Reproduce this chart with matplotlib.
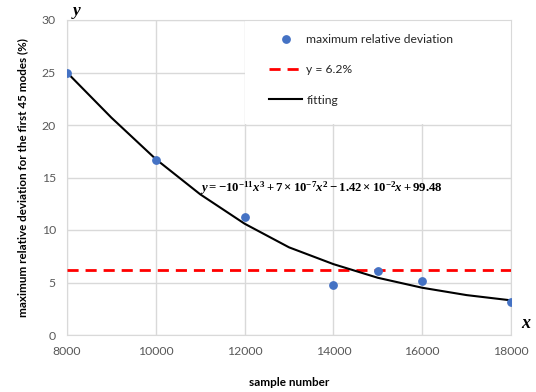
import numpy as np
import matplotlib
matplotlib.use("Agg")
import matplotlib.pyplot as plt
from matplotlib.patches import Rectangle

# measured points
sample_number = [8000, 10000, 12000, 14000, 15000, 16000, 18000]
max_dev = [25.0, 16.7, 11.2, 4.8, 6.1, 5.1, 3.1]

# fitted curve
fit_x = [8000, 9000, 10000, 11000, 12000, 13000, 14000, 15000, 16000, 17000, 18000]
fit_y = [25.0, 20.7, 16.75, 13.4, 10.6, 8.35, 6.75, 5.45, 4.5, 3.8, 3.3]

threshold = 6.2
x_ticks = [8000, 10000, 12000, 14000, 16000, 18000]
y_ticks = [0, 5, 10, 15, 20, 25, 30]

plt.rcParams['font.family'] = ['Lato', 'DejaVu Sans']
plt.rcParams['mathtext.fontset'] = 'custom'
plt.rcParams['mathtext.rm'] = 'Liberation Serif:bold'
plt.rcParams['mathtext.it'] = 'Liberation Serif:italic:bold'
plt.rcParams['mathtext.bf'] = 'Liberation Serif:bold'

fig = plt.figure(figsize=(5.36, 3.92), dpi=100)
ax = fig.add_axes([67/536, 1-335/392, 444/536, 315/392])

grid_c = '#d9d9d9'
ax.scatter(sample_number, max_dev, s=28, color='#4472C4', zorder=4,
           label='maximum relative deviation')
ax.axhline(threshold, color='#FF0000', lw=2, dashes=(4, 2.5), zorder=3,
           label='y = 6.2%')
ax.plot(fit_x, fit_y, color='black', lw=1.5, zorder=3, label='fitting',
        solid_joinstyle='round')

ax.set_xlim(8000, 18000)
ax.set_ylim(0, 30)
ax.set_xticks(x_ticks)
ax.set_yticks(y_ticks)
ax.grid(True, color=grid_c, lw=1)
ax.set_axisbelow(True)
for s in ax.spines.values():
    s.set_color(grid_c)
ax.tick_params(length=0, labelsize=8.8, labelcolor='#595959')
ax.tick_params(axis='x', pad=8)
ax.tick_params(axis='y', pad=8)

ax.set_xlabel('sample number', fontsize=8.5, fontweight='bold', labelpad=14)
ax.set_ylabel('maximum relative deviation for the first 45 modes (%)',
              fontsize=8.4, fontweight='bold', labelpad=10)

ax.text(0.012, 1.017, 'y', transform=ax.transAxes, fontsize=12.5,
        family='Liberation Serif', style='italic', fontweight='bold',
        ha='left', va='baseline')
ax.text(1.022, 0.038, 'x', transform=ax.transAxes, fontsize=13,
        family='Liberation Serif', style='italic', fontweight='bold',
        ha='left', va='center')

ax.text(11000, 14.0,
        r'$y=-10^{-11}x^3+7\times10^{-7}x^2-1.42\times10^{-2}x+99.48$',
        fontsize=9.2, ha='left', va='center', zorder=5)

# white box behind the legend, hiding the grid
ax.add_patch(Rectangle((0.401, 0.67), 0.599, 0.327, transform=ax.transAxes,
                       facecolor='white', edgecolor='none', zorder=2.5))
leg = ax.legend(loc='upper left', bbox_to_anchor=(0.455, 0.957),
                borderaxespad=0, borderpad=0, fontsize=8.7, frameon=False,
                handlelength=2.75, handletextpad=0.35, labelspacing=1.62,
                scatterpoints=1)
leg.set_zorder(6)
for t in leg.get_texts():
    t.set_color('#262626')

fig.savefig('out.png', dpi=100)
